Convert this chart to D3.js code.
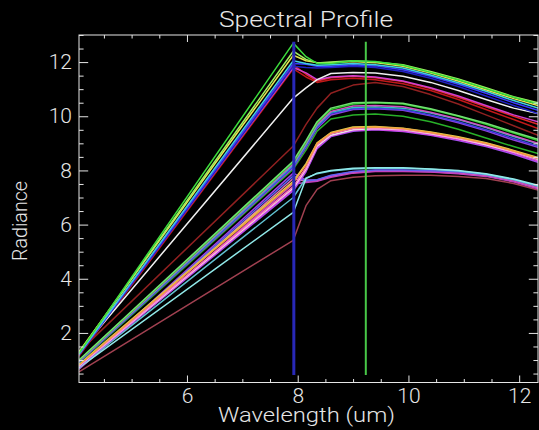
<!DOCTYPE html>
<html>
<head>
<meta charset="utf-8">
<script src="https://cdn.jsdelivr.net/npm/d3@7"></script>
<style>
  html, body { margin: 0; padding: 0; background: #000; }
  svg { display: block; }
  text { font-family: "Roboto", "Liberation Sans", sans-serif; font-weight: 300; fill: #e6e6e6; }
</style>
</head>
<body>
<svg id="chart" width="539" height="430"></svg>
<script>
// Band centres (um) at which each pixel spectrum is sampled
const wavelengths = [4.05, 7.92, 8.15, 8.35, 8.6, 9.0, 9.4, 9.9, 10.4, 10.9, 11.4, 11.9, 12.34];

// Radiance spectra, one array per selected pixel
const p01 = [1.25, 12.70, 12.20, 11.95, 11.95, 12.05, 12.02, 11.88, 11.62, 11.35, 11.02, 10.70, 10.45];
const p02 = [1.30, 12.25, 12.05, 11.98, 11.98, 12.02, 11.98, 11.85, 11.60, 11.30, 10.98, 10.65, 10.40];
const p03 = [1.20, 11.95, 11.92, 11.85, 11.85, 11.90, 11.86, 11.72, 11.48, 11.18, 10.85, 10.50, 10.22];
const p04 = [1.22, 12.05, 11.95, 11.88, 11.90, 11.95, 11.90, 11.78, 11.52, 11.24, 10.92, 10.58, 10.30];
const p05 = [1.28, 12.40, 12.10, 11.97, 12.00, 12.05, 12.00, 11.90, 11.65, 11.38, 11.05, 10.72, 10.50];
const p06 = [1.18, 11.85, 11.80, 11.78, 11.80, 11.85, 11.80, 11.65, 11.40, 11.10, 10.75, 10.40, 10.10];
const p07 = [1.22, 11.80, 11.60, 11.35, 11.45, 11.50, 11.45, 11.30, 11.05, 10.75, 10.40, 10.05, 9.80];
const p08 = [1.20, 11.90, 11.55, 11.30, 11.42, 11.48, 11.42, 11.28, 11.02, 10.70, 10.35, 10.00, 9.70];
const p09 = [1.15, 11.75, 11.45, 11.25, 11.35, 11.40, 11.35, 11.20, 10.95, 10.62, 10.25, 9.88, 9.55];
const p10 = [1.30, 10.67, 11.05, 11.35, 11.58, 11.62, 11.60, 11.48, 11.25, 10.95, 10.62, 10.30, 10.10];
const p11 = [1.30, 8.90, 9.70, 10.30, 10.85, 11.15, 11.25, 11.10, 10.80, 10.45, 10.05, 9.65, 9.30];
const p12 = [0.98, 8.30, 9.05, 9.75, 10.25, 10.45, 10.50, 10.45, 10.25, 10.00, 9.70, 9.38, 9.10];
const p13 = [0.95, 8.20, 8.95, 9.65, 10.15, 10.32, 10.35, 10.30, 10.12, 9.88, 9.58, 9.25, 8.98];
const p14 = [0.92, 8.15, 8.90, 9.60, 10.10, 10.28, 10.30, 10.25, 10.05, 9.80, 9.50, 9.18, 8.90];
const p15 = [0.94, 8.10, 8.85, 9.55, 10.05, 10.25, 10.28, 10.22, 10.02, 9.76, 9.46, 9.12, 8.85];
const p16 = [0.90, 8.05, 8.75, 9.45, 9.90, 10.05, 10.08, 10.00, 9.80, 9.52, 9.20, 8.88, 8.62];
const p17 = [0.96, 8.25, 9.00, 9.70, 10.18, 10.38, 10.40, 10.35, 10.15, 9.90, 9.60, 9.28, 9.00];
const p18 = [1.00, 8.35, 9.10, 9.80, 10.30, 10.50, 10.52, 10.48, 10.28, 10.02, 9.74, 9.42, 9.15];
const p19 = [0.80, 7.40, 8.10, 8.95, 9.35, 9.55, 9.58, 9.52, 9.38, 9.20, 8.98, 8.70, 8.42];
const p20 = [0.82, 7.55, 8.20, 9.00, 9.38, 9.58, 9.60, 9.55, 9.40, 9.22, 9.00, 8.72, 8.45];
const p21 = [0.78, 7.35, 8.05, 8.90, 9.30, 9.50, 9.55, 9.50, 9.35, 9.18, 8.95, 8.68, 8.40];
const p22 = [0.76, 7.30, 8.00, 8.85, 9.28, 9.48, 9.52, 9.46, 9.32, 9.14, 8.92, 8.64, 8.35];
const p23 = [0.75, 7.25, 7.95, 8.80, 9.25, 9.45, 9.50, 9.44, 9.30, 9.10, 8.88, 8.60, 8.30];
const p24 = [0.84, 7.60, 8.25, 9.02, 9.40, 9.60, 9.62, 9.56, 9.42, 9.24, 9.02, 8.74, 8.48];
const p25 = [0.70, 7.90, 7.65, 7.65, 7.80, 7.95, 8.00, 8.00, 7.98, 7.94, 7.84, 7.65, 7.40];
const p26 = [0.72, 6.45, 7.70, 7.90, 8.00, 8.08, 8.10, 8.10, 8.05, 8.00, 7.88, 7.68, 7.45];
const p27 = [0.68, 7.70, 7.60, 7.62, 7.78, 7.92, 7.98, 7.98, 7.95, 7.90, 7.80, 7.60, 7.35];
const p28 = [0.66, 7.50, 7.55, 7.60, 7.75, 7.90, 7.96, 7.96, 7.94, 7.88, 7.78, 7.58, 7.32];
const p29 = [0.70, 7.80, 7.62, 7.66, 7.82, 7.96, 8.02, 8.02, 7.99, 7.95, 7.85, 7.66, 7.42];
const p30 = [0.56, 5.42, 6.70, 7.30, 7.62, 7.75, 7.80, 7.82, 7.82, 7.78, 7.70, 7.52, 7.28];
const p31 = [0.74, 7.00, 7.72, 7.88, 7.98, 8.05, 8.08, 8.08, 8.04, 7.98, 7.86, 7.66, 7.42];

const profiles = [p30, p25, p27, p28, p29, p31, p26,
                  p23, p22, p21, p19, p24, p20,
                  p16, p15, p14, p13, p17, p12, p18,
                  p11, p09, p08, p07, p10,
                  p06, p03, p04, p02, p05, p01];
const profileColors = ["#a04050", "#a040e0", "#e070b0", "#c040c0", "#6060f0", "#60c0d0", "#90e8e8",
                       "#a050f0", "#e040e0", "#e8e8e8", "#ff70c0", "#e0d050", "#f0a040",
                       "#28b028", "#9040e0", "#4040e0", "#30c0c0", "#d050c0", "#30c830", "#70e070",
                       "#902020", "#c01818", "#e02828", "#d040d0", "#f0f0f0",
                       "#2020c0", "#3c3cff", "#40d0e0", "#e6e650", "#a0f060", "#3cdc3c"];

// Vertical band markers
const markerWavelengths = [7.93, 9.23];
const markerColors = ["#2828b8", "#48c848"];
const markerSpan = [0.45, 12.75];

// Axis settings
const xDomain = [4.05, 12.34];
const yDomain = [0.17, 13.0];
const xMajorTicks = [6, 8, 10, 12];
const yMajorTicks = [2, 4, 6, 8, 10, 12];
const titleText = "Spectral Profile";
const xLabelText = "Wavelength (um)";
const yLabelText = "Radiance";

const svg = d3.select("#chart");
const W = 539, H = 430;
const plot = { left: 79, right: 538, top: 35, bottom: 382.5 };

svg.append("rect").attr("width", W).attr("height", H).attr("fill", "#000");

const x = d3.scaleLinear().domain(xDomain).range([plot.left, plot.right]);
const y = d3.scaleLinear().domain(yDomain).range([plot.bottom, plot.top]);

svg.append("defs").append("clipPath").attr("id", "plotClip")
  .append("rect")
  .attr("x", plot.left).attr("y", plot.top)
  .attr("width", plot.right - plot.left).attr("height", plot.bottom - plot.top);

const g = svg.append("g").attr("clip-path", "url(#plotClip)");

const line = d3.line()
  .x((d, i) => x(wavelengths[i]))
  .y(d => y(d));

g.selectAll("path.profile")
  .data(profiles)
  .join("path")
  .attr("class", "profile")
  .attr("d", d => line(d))
  .attr("fill", "none")
  .attr("stroke", (d, i) => profileColors[i])
  .attr("stroke-width", 1.5)
  .attr("stroke-linejoin", "round");

g.selectAll("line.marker")
  .data(markerWavelengths)
  .join("line")
  .attr("class", "marker")
  .attr("x1", d => x(d)).attr("x2", d => x(d))
  .attr("y1", y(markerSpan[0])).attr("y2", y(markerSpan[1]))
  .attr("stroke", (d, i) => markerColors[i])
  .attr("stroke-width", (d, i) => i === 0 ? 3 : 2);

// Axes: ticks point inward on all four sides, minor ticks every 0.5
const xMinor = d3.range(4.5, 12.34, 0.5).filter(v => !xMajorTicks.includes(v));
const yMinor = d3.range(0.5, 13.01, 0.5).filter(v => !yMajorTicks.includes(v));
const xTickLen = 7, yTickLen = 9.2;

function styleAxis(sel) {
  sel.select(".domain").remove();
  sel.selectAll("line").attr("stroke", "#e6e6e6").attr("stroke-width", 1);
}

// bottom
svg.append("g").attr("transform", `translate(0,${plot.bottom})`)
  .call(d3.axisBottom(x).tickValues(xMajorTicks).tickSize(-xTickLen).tickPadding(5.5).tickFormat(d3.format("d")))
  .call(styleAxis)
  .call(s => s.selectAll("text").attr("font-size", 21).attr("fill", "#e6e6e6").attr("font-family", null));
svg.append("g").attr("transform", `translate(0,${plot.bottom})`)
  .call(d3.axisBottom(x).tickValues(xMinor).tickSize(-xTickLen / 2).tickFormat(""))
  .call(styleAxis);
// top
svg.append("g").attr("transform", `translate(0,${plot.top})`)
  .call(d3.axisTop(x).tickValues(xMajorTicks).tickSize(-xTickLen).tickFormat(""))
  .call(styleAxis);
svg.append("g").attr("transform", `translate(0,${plot.top})`)
  .call(d3.axisTop(x).tickValues(xMinor).tickSize(-xTickLen / 2).tickFormat(""))
  .call(styleAxis);
// left
svg.append("g").attr("transform", `translate(${plot.left},0)`)
  .call(d3.axisLeft(y).tickValues(yMajorTicks).tickSize(-yTickLen).tickPadding(7).tickFormat(d3.format("d")))
  .call(styleAxis)
  .call(s => s.selectAll("text").attr("font-size", 21).attr("fill", "#e6e6e6").attr("font-family", null));
svg.append("g").attr("transform", `translate(${plot.left},0)`)
  .call(d3.axisLeft(y).tickValues(yMinor).tickSize(-yTickLen / 2).tickFormat(""))
  .call(styleAxis);
// right
svg.append("g").attr("transform", `translate(${plot.right},0)`)
  .call(d3.axisRight(y).tickValues(yMajorTicks).tickSize(-yTickLen).tickFormat(""))
  .call(styleAxis);
svg.append("g").attr("transform", `translate(${plot.right},0)`)
  .call(d3.axisRight(y).tickValues(yMinor).tickSize(-yTickLen / 2).tickFormat(""))
  .call(styleAxis);

// frame
svg.append("rect")
  .attr("x", plot.left).attr("y", plot.top)
  .attr("width", plot.right - plot.left).attr("height", plot.bottom - plot.top)
  .attr("fill", "none").attr("stroke", "#e6e6e6").attr("stroke-width", 1);

// titles
svg.append("text")
  .attr("x", 306).attr("y", 27)
  .attr("text-anchor", "middle")
  .attr("font-size", 22)
  .attr("textLength", 174).attr("lengthAdjust", "spacingAndGlyphs")
  .text(titleText);

svg.append("text")
  .attr("x", 306.5).attr("y", 422)
  .attr("text-anchor", "middle")
  .attr("font-size", 20)
  .attr("textLength", 177).attr("lengthAdjust", "spacingAndGlyphs")
  .text(xLabelText);

svg.append("text")
  .attr("transform", "translate(27,221) rotate(-90)")
  .attr("text-anchor", "middle")
  .attr("font-size", 21)
  .attr("textLength", 80).attr("lengthAdjust", "spacingAndGlyphs")
  .text(yLabelText);
</script>
</body>
</html>
